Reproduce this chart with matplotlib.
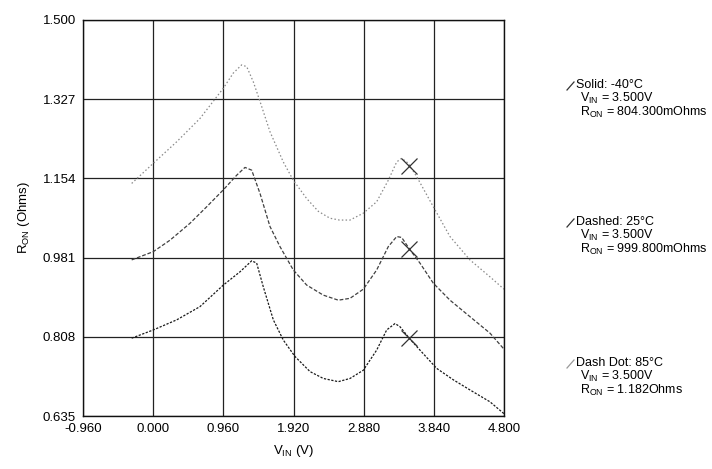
import matplotlib
matplotlib.use("Agg")
import matplotlib.pyplot as plt

plt.rcParams["font.family"] = ["Liberation Sans", "DejaVu Sans"]

# V_IN (V) vs R_ON (Ohms)
x_85 = [-0.294, 0.002, 0.322, 0.641, 0.96, 1.096, 1.211, 1.28, 1.37, 1.462, 1.598, 1.78,
        1.917, 2.10, 2.26, 2.419, 2.55, 2.693, 2.875, 3.058, 3.217, 3.332, 3.40, 3.491,
        3.605, 3.833, 4.061, 4.334, 4.608, 4.80]
r_85 = [1.143, 1.187, 1.234, 1.285, 1.351, 1.384, 1.402, 1.398, 1.365, 1.322, 1.256, 1.190,
        1.150, 1.110, 1.082, 1.067, 1.063, 1.063, 1.078, 1.103, 1.150, 1.190, 1.198, 1.187,
        1.158, 1.092, 1.027, 0.976, 0.939, 0.912]

x_25 = [-0.294, 0.002, 0.23, 0.504, 0.732, 0.96, 1.143, 1.256, 1.348, 1.462, 1.598, 1.735,
        1.917, 2.10, 2.328, 2.533, 2.693, 2.875, 3.058, 3.217, 3.332, 3.40, 3.514, 3.65,
        3.833, 4.061, 4.334, 4.608, 4.80]
r_25 = [0.976, 0.994, 1.019, 1.056, 1.092, 1.129, 1.161, 1.178, 1.172, 1.121, 1.049, 1.005,
        0.954, 0.921, 0.899, 0.888, 0.892, 0.912, 0.954, 1.005, 1.027, 1.025, 0.998, 0.969,
        0.925, 0.888, 0.852, 0.816, 0.781]

x_m40 = [-0.294, 0.002, 0.322, 0.641, 0.96, 1.188, 1.348, 1.416, 1.507, 1.644, 1.78, 1.94,
         2.146, 2.328, 2.533, 2.693, 2.875, 3.058, 3.195, 3.309, 3.377, 3.514, 3.65, 3.879,
         4.107, 4.334, 4.608, 4.80]
r_m40 = [0.805, 0.823, 0.845, 0.874, 0.921, 0.950, 0.974, 0.969, 0.917, 0.845, 0.801, 0.765,
         0.732, 0.717, 0.710, 0.717, 0.735, 0.779, 0.823, 0.837, 0.830, 0.803, 0.779, 0.739,
         0.714, 0.692, 0.666, 0.640]

cursor_v = 3.5
cursor_r = [0.8043, 0.9998, 1.182]

x_ticks = [-0.960, 0.000, 0.960, 1.920, 2.880, 3.840, 4.800]
y_ticks = [0.635, 0.808, 0.981, 1.154, 1.327, 1.500]

fig = plt.figure(figsize=(7.12, 4.69), dpi=100)
ax = fig.add_axes([83 / 712, 1 - 416 / 469, 421 / 712, 396 / 469])

ax.plot(x_85, r_85, color="#8a8a8a", lw=0.9, linestyle=(0, (1.2, 1.8)))
ax.plot(x_25, r_25, color="#404040", lw=0.9, linestyle=(0, (3, 1.5)))
ax.plot(x_m40, r_m40, color="#1a1a1a", lw=0.9, linestyle=(0, (1.8, 1.2)))
ax.plot([cursor_v] * 3, cursor_r, "x", color="#333333", ms=11, mew=0.9)

ax.set_xlim(x_ticks[0], x_ticks[-1])
ax.set_ylim(y_ticks[0], y_ticks[-1])
ax.set_xticks(x_ticks)
ax.set_yticks(y_ticks)
ax.set_xticklabels([f"{v:.3f}" for v in x_ticks], fontsize=9.5)
ax.set_yticklabels([f"{v:.3f}" for v in y_ticks], fontsize=9.5)
ax.tick_params(length=0, pad=5)
ax.grid(True, color="#222222", lw=0.9)
for s in ax.spines.values():
    s.set_color("#111111")
    s.set_linewidth(1.0)

ax.set_xlabel(r"V$_{\mathregular{IN}}$ (V)", fontsize=9.5, labelpad=6)
ax.set_ylabel(r"R$_{\mathregular{ON}}$ (Ohms)", fontsize=9.5, labelpad=8)

# cursor read-outs on the right
notes = [
    (85, "Solid: -40\u00b0C", "804.300mOhms", "#333333"),
    (222, "Dashed: 25\u00b0C", "999.800mOhms", "#333333"),
    (363, "Dash Dot: 85\u00b0C", "1.182Ohms", "#999999"),
]
for ypix, title, val, icol in notes:
    fy = 1 - ypix / 469
    fig.add_artist(plt.Line2D([567 / 712, 574 / 712], [fy - 5 / 469, fy + 3 / 469],
                              color=icol, lw=0.9))
    fig.text(576 / 712, fy, title, fontsize=9, va="center", ha="left")
    fig.text(580 / 712, fy - 13 / 469, r"V$_{\mathregular{IN}}$ = 3.500V",
             fontsize=9, va="center", ha="left")
    fig.text(580 / 712, fy - 27 / 469, r"R$_{\mathregular{ON}}$ = " + val,
             fontsize=9, va="center", ha="left")

fig.savefig("out.png", dpi=100)
